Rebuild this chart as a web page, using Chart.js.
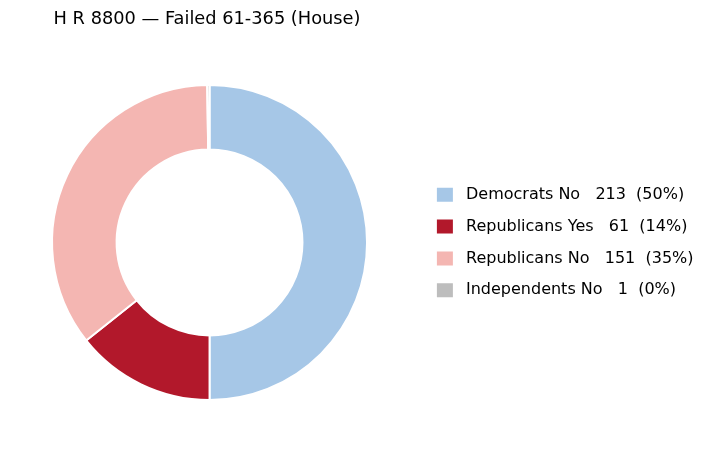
<!DOCTYPE html>
<html lang="en">
<head>
    <meta charset="UTF-8">
    <title>H R 8800 vote</title>
    <script src="https://cdn.jsdelivr.net/npm/chart.js"></script>
    <style>
        body { margin: 0; background: #fff; overflow: hidden; }
        #wrap { width: 708px; height: 450px; margin-left: -2px; }
    </style>
</head>
<body>
<div id="wrap"><canvas id="chartCanvas" width="708" height="450"></canvas></div>

<script>
    // vote breakdown
    const groups = ['Democrats No', 'Republicans Yes', 'Republicans No', 'Independents No'];
    const votes = [213, 61, 151, 1];
    const colors = ['#a6c7e7', '#b2182b', '#f4b6b2', '#bdbdbd'];
    const chartTitle = 'H R 8800 \u2014 Failed 61-365 (House)';

    const total = votes.reduce((a, b) => a + b, 0);
    const labels = groups.map((g, i) =>
        g + '   ' + votes[i] + '  (' + Math.round(votes[i] / total * 100) + '%)');

    const FONT = "'DejaVu Sans', sans-serif";

    // title drawn at a fixed left offset
    const titlePlugin = {
        id: 'leftTitle',
        afterDraw(chart) {
            const ctx = chart.ctx;
            ctx.save();
            ctx.font = '17.8px ' + FONT;
            ctx.fillStyle = '#000';
            ctx.textBaseline = 'alphabetic';
            ctx.textAlign = 'left';
            ctx.fillText(chartTitle, 55.6, 24);
            ctx.restore();
        }
    };

    new Chart(document.getElementById('chartCanvas'), {
        type: 'doughnut',
        data: {
            labels,
            datasets: [{
                data: votes,
                backgroundColor: colors,
                borderColor: '#ffffff',
                borderWidth: 2
            }]
        },
        options: {
            responsive: false,
            animation: false,
            devicePixelRatio: 1,
            cutout: '59%',
            rotation: 0,
            layout: { padding: { top: 84, bottom: 49, left: 0, right: 2.5 } },
            plugins: {
                tooltip: { enabled: false },
                title: { display: false },
                legend: {
                    position: 'right',
                    labels: {
                        font: { family: FONT, size: 16 },
                        color: '#000',
                        boxWidth: 16,
                        boxHeight: 14,
                        padding: 15.8,
                        generateLabels(chart) {
                            const items = Chart.overrides.doughnut.plugins.legend.labels.generateLabels(chart);
                            items.forEach(it => {
                                it.lineWidth = 0;
                                it.strokeStyle = it.fillStyle;
                                it.text = ' ' + it.text;
                            });
                            return items;
                        }
                    }
                }
            }
        },
        plugins: [titlePlugin]
    });
</script>
</body>
</html>
